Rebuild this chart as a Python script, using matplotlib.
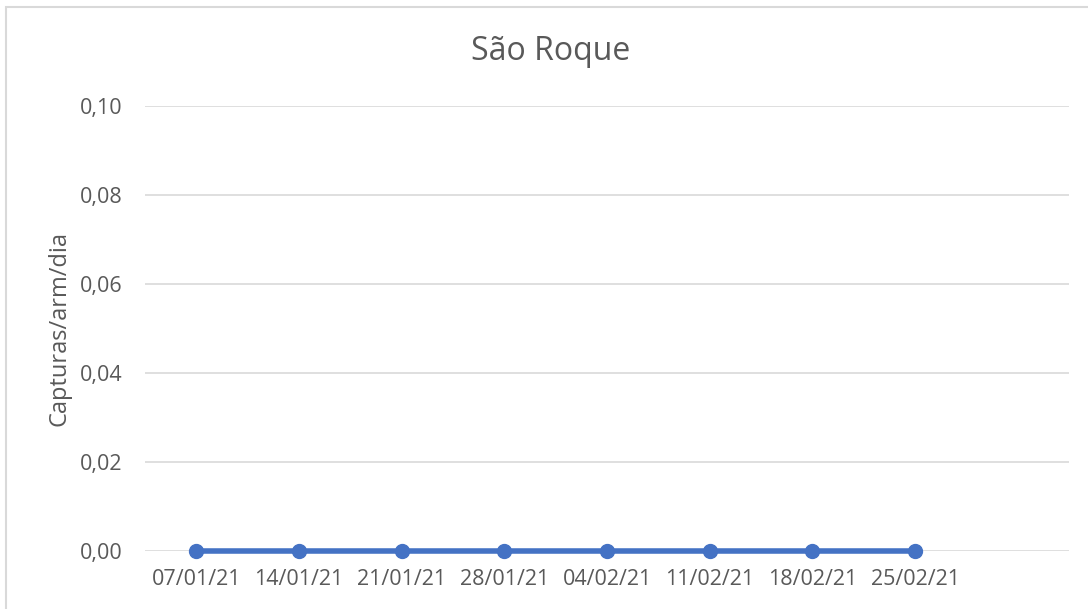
import matplotlib
matplotlib.use("Agg")
import matplotlib.pyplot as plt
from matplotlib.patches import Rectangle

datas = ["07/01/21", "14/01/21", "21/01/21", "28/01/21", "04/02/21",
         "11/02/21", "18/02/21", "25/02/21", ""]
capturas = [0, 0, 0, 0, 0, 0, 0, 0]
yticks = [0.00, 0.02, 0.04, 0.06, 0.08, 0.10]

plt.rcParams['font.family'] = ['Open Sans', 'DejaVu Sans']
cinza = "#595959"

fig = plt.figure(figsize=(10.88, 6.09), dpi=100)
ax = fig.add_axes([145/1088, 1 - 551/609, (1069 - 145)/1088, (551 - 106)/609])

x = list(range(len(capturas)))
ax.plot(x, capturas, color="#4472C4", lw=4, marker="o", ms=10, clip_on=False, zorder=3)

ax.set_xlim(-0.5, len(datas) - 0.5)
ax.set_ylim(0, 0.10)
ax.set_yticks(yticks)
ax.set_yticklabels([f"{v:.2f}".replace(".", ",") for v in yticks])
ax.set_xticks(range(len(datas)))
ax.set_xticklabels(datas)
ax.grid(axis="y", color="#D9D9D9", lw=1.2)
ax.set_axisbelow(True)
for s in ax.spines.values():
    s.set_visible(False)
ax.tick_params(length=0, labelsize=15.5, colors=cinza)
ax.tick_params(axis="x", pad=13)
ax.tick_params(axis="y", pad=16)
ax.set_ylabel("Capturas/arm/dia", fontsize=17, color=cinza, labelpad=6)
fig.text(551/1088, 1 - 52/609, "São Roque", fontsize=23, color=cinza,
         ha="center", va="center")

# moldura do gráfico
fig.patches.append(Rectangle((6/1088, -0.1), 1.2, (609 - 7)/609 + 0.1,
                             transform=fig.transFigure, fill=False,
                             ec="#D9D9D9", lw=1.5))

fig.savefig("out.png", dpi=100)
